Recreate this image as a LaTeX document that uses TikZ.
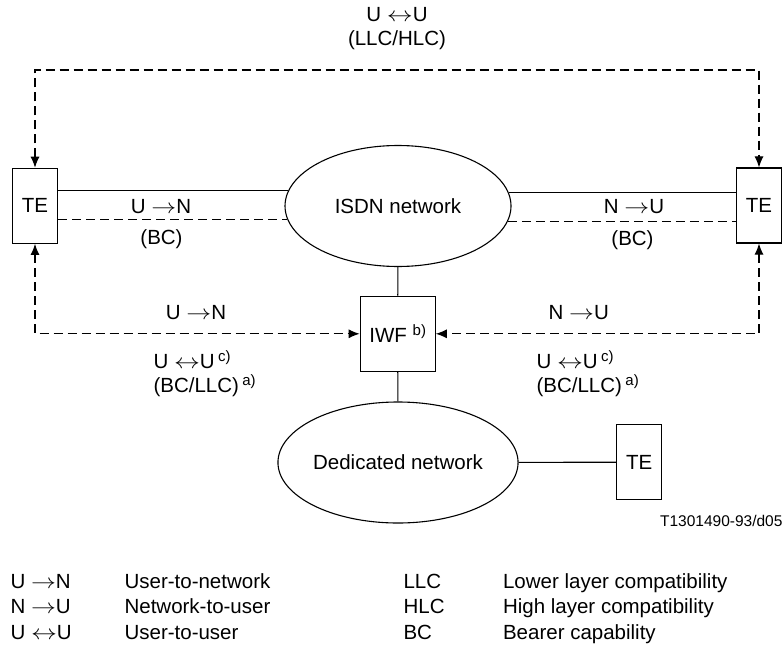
\documentclass[tikz,border=0pt]{standalone}
\usepackage{fontspec}
\setmainfont{Liberation Sans}
\usepackage{tikz}
\usetikzlibrary{shapes.geometric, arrows.meta, positioning}
\newcommand{\toarr}{\scalebox{1.2}[1]{$\rightarrow$}}
\newcommand{\botharr}{\scalebox{1.25}[1]{$\leftrightarrow$}}
\newcommand{\supnote}[1]{\raisebox{7pt}{\fontsize{15}{15}\selectfont #1}}

\begin{document}
\begin{tikzpicture}[
    x=1pt, y=-1pt,
    line width=1.1pt,
    every node/.style={font=\fontsize{20.5}{24}\selectfont, inner sep=0pt},
    term/.style={rectangle, draw, minimum width=45pt, minimum height=75pt},
    net/.style={ellipse, draw, minimum width=226pt, minimum height=121pt},
    iwfbox/.style={rectangle, draw, minimum width=75pt, minimum height=75.5pt},
    dline/.style={dash pattern=on 9pt off 5pt},
    tip/.style={{Latex[length=11pt,width=9pt]}-{Latex[length=11pt,width=9pt]}},
    legend/.style={anchor=west, text height=1.5ex, text depth=.25ex},
    ref/.style={anchor=east, font=\fontsize{15.5}{18}\selectfont}
]
    \useasboundingbox (0,0) rectangle (783,647);

    \node (isdn) [net] at (398,206) {ISDN network};
    \node (teL) [term] at (35,205.8) {TE};
    \node (teR) [term] at (759,205.5) {TE};
    \node (iwf) [iwfbox] at (397.7,333.8) {IWF \supnote{b)}};
    \node (ded) [net] at (398,462.5) {Dedicated network};
    \node (te3) [term] at (639.2,462.2) {TE};
    \coordinate (topc) at (398,70);

    % links through the ISDN network
    \draw (teL.east |- isdn.172.2) -- (isdn.172.2);
    \draw (isdn.7.8) -- (teR.west |- isdn.7.8);
    \draw [dline] (teL.east |- isdn.187.6) -- (isdn.187.6);
    \draw [dline] (isdn.352.4) -- (teR.west |- isdn.352.4);
    \draw (isdn) -- (iwf);
    \draw (iwf) -- (ded);
    \draw (ded) -- (te3);

    % dashed signalling paths
    \draw [dline, tip] (teL.north) |- (topc) -| (teR.north);
    \draw [dline, tip] (teL.south) |- (iwf.west);
    \draw [dline, tip] (teR.south) |- (iwf.east);

    % labels
    \node (uuTop) [align=center] at (397,28.8) {U \botharr U\\(LLC/HLC)};
    \node (unA) at (161,207) {U \toarr N};
    \node (bcA) at (161.5,239) {(BC)};
    \node (nuA) at (634,207) {N \toarr U};
    \node (bcB) at (632.5,240) {(BC)};
    \node (unB) at (196,312.7) {U \toarr N};
    \node (nuB) at (578.7,312.7) {N \toarr U};
    \node (uuL) [anchor=west, align=left] at (153,373.3) {U \botharr U\,\supnote{c)}\\(BC/LLC)\,\supnote{a)}};
    \node (uuR) [anchor=west, align=left] at (536,373.3) {U \botharr U\,\supnote{c)}\\(BC/LLC)\,\supnote{a)}};
    \node (refno) [ref] at (783,520.5) {T1301490-93/d05};

    % legend
    \node (k1) [legend] at (10,585) {U \toarr N};
    \node (k2) [legend] at (10,610.5) {N \toarr U};
    \node (k3) [legend] at (10,636) {U \botharr U};
    \node (d1) [legend] at (124,585) {User-to-network};
    \node (d2) [legend] at (124,610.5) {Network-to-user};
    \node (d3) [legend] at (124,636) {User-to-user};
    \node (k4) [legend] at (403,585) {LLC};
    \node (k5) [legend] at (403,610.5) {HLC};
    \node (k6) [legend] at (403,636) {BC};
    \node (d4) [legend] at (502.5,585) {Lower layer compatibility};
    \node (d5) [legend] at (502.5,610.5) {High layer compatibility};
    \node (d6) [legend] at (502.5,636) {Bearer capability};
\end{tikzpicture}
\end{document}
